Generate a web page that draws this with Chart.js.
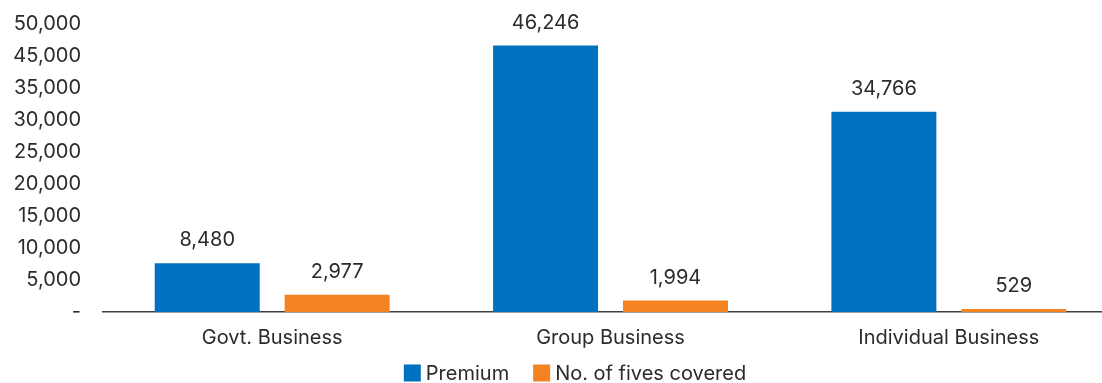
<!DOCTYPE html>
<html>
<head>
<meta charset="utf-8">
<script src="https://cdn.jsdelivr.net/npm/chart.js@4.4.1/dist/chart.umd.min.js"></script>
<style>
html, body { margin: 0; padding: 0; overflow: hidden; background: #fff; }
#wrap { width: 1118px; height: 383px; }
</style>
</head>
<body>
<div id="wrap"><canvas id="myChart"></canvas></div>
<script>
var categories = ['Govt. Business', 'Group Business', 'Individual Business'];
var premium = [8480, 46246, 34766];
var livesCovered = [2977, 1994, 529];
var seriesNames = ['Premium', 'No. of fives covered'];
var seriesColors = ['#0070C0', '#F58220'];
// axis labels as printed (one per gridline, 9 equal steps up to the max)
var yTickLabels = ['-', '5,000', '10,000', '15,000', '20,000', '25,000', '30,000', '35,000', '45,000', '50,000'];
var yMax = 50000;

var textColor = '#2b2b2b';
var fontFamily = 'Inter, Roboto, sans-serif';
var fontSize = 20;
var legendCenterX = 575;

// value labels over each bar
var barLabels = {
    id: 'barLabels',
    afterDatasetsDraw: function(chart) {
        var ctx = chart.ctx;
        ctx.save();
        ctx.font = fontSize + 'px ' + fontFamily;
        ctx.fillStyle = textColor;
        ctx.textAlign = 'center';
        ctx.textBaseline = 'middle';
        chart.data.datasets.forEach(function(ds, i) {
            chart.getDatasetMeta(i).data.forEach(function(bar, j) {
                ctx.fillText(ds.data[j].toLocaleString('en-US'), bar.x, bar.y - 23);
            });
        });
        ctx.restore();
    }
};

// legend drawn under the category labels
var bottomLegend = {
    id: 'bottomLegend',
    afterDraw: function(chart) {
        var ctx = chart.ctx;
        var box = 17, gapText = 5, gapItem = 24;
        var y = 373;
        ctx.save();
        ctx.font = fontSize + 'px ' + fontFamily;
        var widths = seriesNames.map(function(n) { return ctx.measureText(n).width; });
        var total = 0;
        widths.forEach(function(w, i) { total += box + gapText + w + (i > 0 ? gapItem : 0); });
        var x = legendCenterX - total / 2;
        ctx.textBaseline = 'middle';
        ctx.textAlign = 'left';
        seriesNames.forEach(function(n, i) {
            ctx.fillStyle = seriesColors[i];
            ctx.fillRect(x, y - box / 2, box, box);
            ctx.fillStyle = textColor;
            ctx.fillText(n, x + box + gapText, y + 1);
            x += box + gapText + widths[i] + gapItem;
        });
        ctx.restore();
    }
};

var data = {
    labels: categories,
    datasets: [{
        label: seriesNames[0],
        data: premium,
        backgroundColor: seriesColors[0]
    }, {
        label: seriesNames[1],
        data: livesCovered,
        backgroundColor: seriesColors[1]
    }]
};

var ctx = document.getElementById('myChart').getContext('2d');
var myChart = new Chart(ctx, {
    type: 'bar',
    data: data,
    plugins: [barLabels, bottomLegend],
    options: {
        responsive: true,
        maintainAspectRatio: false,
        animation: false,
        layout: { padding: { top: 24, bottom: 19, left: 0, right: 0 } },
        datasets: {
            bar: { categoryPercentage: 0.768, barPercentage: 0.808 }
        },
        plugins: {
            legend: { display: false },
            tooltip: { enabled: false }
        },
        scales: {
            x: {
                grid: { display: false, drawTicks: false },
                border: { display: true, color: '#404040', width: 1.5 },
                ticks: {
                    color: textColor,
                    padding: 14,
                    font: { family: fontFamily, size: fontSize }
                }
            },
            y: {
                min: 0,
                max: yMax,
                grid: { display: false, drawTicks: false },
                border: { display: false },
                afterFit: function(scale) {
                    scale.width = 103;
                    scale.paddingTop = 0;
                    scale.paddingBottom = 0;
                },
                afterBuildTicks: function(scale) {
                    scale.ticks = yTickLabels.map(function(l, i) {
                        return { value: i * yMax / (yTickLabels.length - 1) };
                    });
                },
                ticks: {
                    color: textColor,
                    padding: 22,
                    font: { family: fontFamily, size: fontSize },
                    callback: function(value, index) { return yTickLabels[index]; }
                }
            }
        }
    }
});
</script>
</body>
</html>
